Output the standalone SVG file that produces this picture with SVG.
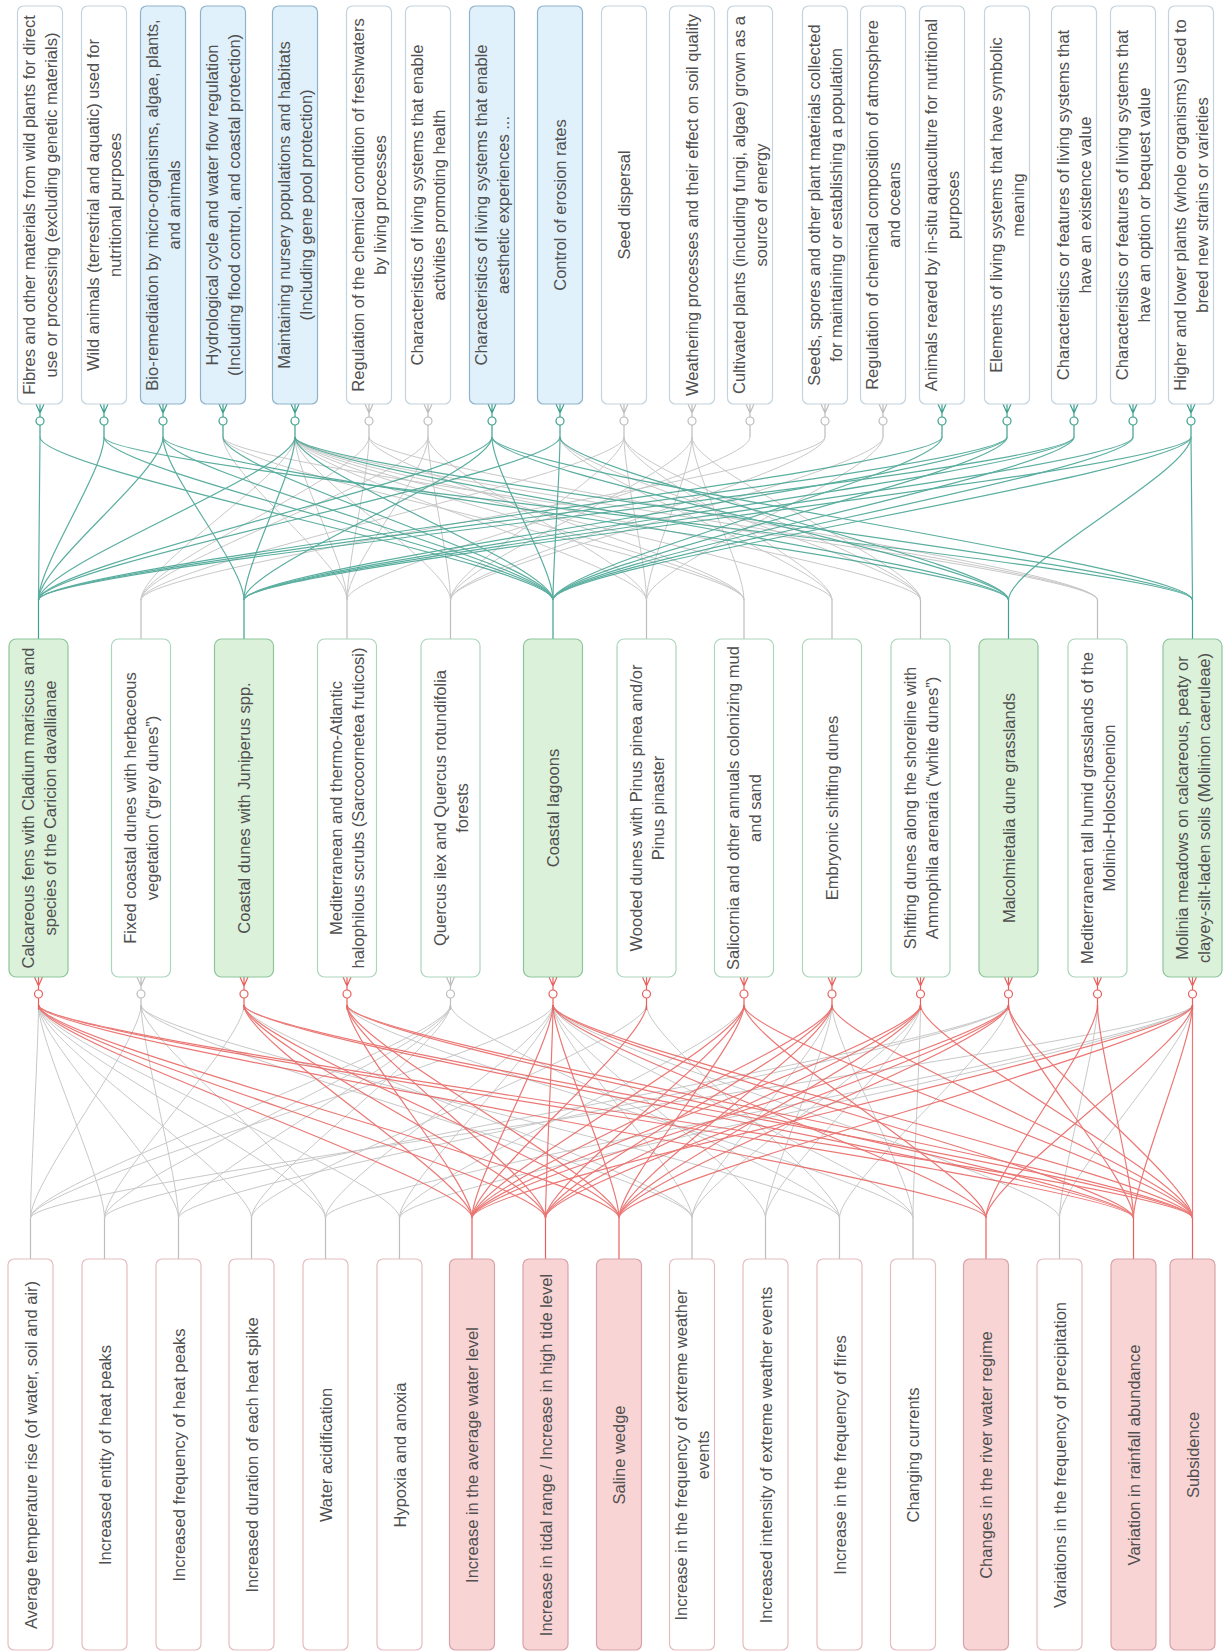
<svg xmlns="http://www.w3.org/2000/svg" xmlns:xlink="http://www.w3.org/1999/xlink" width="1223" height="1652" viewBox="0 0 1223 1652">
<style>
.t{font-family:"Liberation Sans",Arial,sans-serif;font-size:16.5px;fill:#505050;text-anchor:middle}
.bw{fill:#fff;stroke:#c3d3dd;stroke-width:1.2}
.bb{fill:#e1f1fb;stroke:#8db3cc;stroke-width:1.2}
.mw{fill:#fff;stroke:#a9d6bc;stroke-width:1.2}
.mg{fill:#dcf1da;stroke:#8cc59c;stroke-width:1.2}
.pw{fill:#fff;stroke:#e6bcc0;stroke-width:1.2}
.pp{fill:#f9d4d5;stroke:#d8a3a8;stroke-width:1.2}
.cg{fill:none;stroke:#c8c8c8;stroke-width:1}
.ct{fill:none;stroke:#3ea08f;stroke-width:1.2;opacity:.85}
.cr{fill:none;stroke:#e8605d;stroke-width:1.2;opacity:.85}
.kg{fill:none;stroke:#bdbdbd;stroke-width:1.2}
.kt{fill:none;stroke:#3ea08f;stroke-width:1.2}
.kr{fill:none;stroke:#e8605d;stroke-width:1.2}
</style>
<defs>
<g id="fk"><path d="M-4 0L0 9L4 0M0 0V13M0 21V33"/><circle cy="17" r="4" fill="#fff"/></g>
</defs>
<rect width="1223" height="1652" fill="#fff"/>

<g id="connectors">
<g class="cg">
<path d="M295 437C295 472 141 565 141 600"/><path d="M369 437C369 472 141 565 141 600"/><path d="M428 437C428 472 141 565 141 600"/><path d="M624 437C624 472 141 565 141 600"/><path d="M825 437C825 472 141 565 141 600"/>
<path d="M223 437C223 472 347 565 347 600"/><path d="M295 437C295 472 347 565 347 600"/><path d="M369 437C369 472 347 565 347 600"/><path d="M428 437C428 472 347 565 347 600"/><path d="M750 437C750 472 347 565 347 600"/>
<path d="M295 437C295 472 450.5 565 450.5 600"/><path d="M428 437C428 472 450.5 565 450.5 600"/><path d="M624 437C624 472 450.5 565 450.5 600"/><path d="M692 437C692 472 450.5 565 450.5 600"/><path d="M825 437C825 472 450.5 565 450.5 600"/><path d="M883 437C883 472 450.5 565 450.5 600"/>
<path d="M295 437C295 472 646.5 565 646.5 600"/><path d="M428 437C428 472 646.5 565 646.5 600"/><path d="M624 437C624 472 646.5 565 646.5 600"/><path d="M692 437C692 472 646.5 565 646.5 600"/><path d="M883 437C883 472 646.5 565 646.5 600"/>
<path d="M223 437C223 472 744 565 744 600"/><path d="M295 437C295 472 744 565 744 600"/><path d="M369 437C369 472 744 565 744 600"/><path d="M692 437C692 472 744 565 744 600"/>
<path d="M295 437C295 472 832 565 832 600"/><path d="M560 437C560 472 832 565 832 600"/><path d="M624 437C624 472 832 565 832 600"/>
<path d="M295 437C295 472 920.5 565 920.5 600"/><path d="M560 437C560 472 920.5 565 920.5 600"/><path d="M624 437C624 472 920.5 565 920.5 600"/><path d="M692 437C692 472 920.5 565 920.5 600"/>
<path d="M223 437C223 472 1097.5 565 1097.5 600"/><path d="M295 437C295 472 1097.5 565 1097.5 600"/><path d="M369 437C369 472 1097.5 565 1097.5 600"/>
<path d="M38.5 1005C38.5 1042 30.5 1181 30.5 1218"/><path d="M38.5 1005C38.5 1042 104.5 1181 104.5 1218"/><path d="M38.5 1005C38.5 1042 178.5 1181 178.5 1218"/><path d="M38.5 1005C38.5 1042 251.5 1181 251.5 1218"/><path d="M38.5 1005C38.5 1042 325.5 1181 325.5 1218"/><path d="M38.5 1005C38.5 1042 399.5 1181 399.5 1218"/>
<path d="M141 1005C141 1042 30.5 1181 30.5 1218"/><path d="M141 1005C141 1042 178.5 1181 178.5 1218"/><path d="M141 1005C141 1042 325.5 1181 325.5 1218"/><path d="M141 1005C141 1042 692 1181 692 1218"/><path d="M141 1005C141 1042 839.5 1181 839.5 1218"/>
<path d="M244 1005C244 1042 104.5 1181 104.5 1218"/><path d="M244 1005C244 1042 692 1181 692 1218"/>
<path d="M347 1005C347 1042 913 1181 913 1218"/>
<path d="M450.5 1005C450.5 1042 30.5 1181 30.5 1218"/><path d="M450.5 1005C450.5 1042 104.5 1181 104.5 1218"/><path d="M450.5 1005C450.5 1042 178.5 1181 178.5 1218"/><path d="M450.5 1005C450.5 1042 251.5 1181 251.5 1218"/><path d="M450.5 1005C450.5 1042 839.5 1181 839.5 1218"/>
<path d="M553 1005C553 1042 30.5 1181 30.5 1218"/><path d="M553 1005C553 1042 325.5 1181 325.5 1218"/><path d="M553 1005C553 1042 399.5 1181 399.5 1218"/><path d="M553 1005C553 1042 692 1181 692 1218"/><path d="M553 1005C553 1042 765.5 1181 765.5 1218"/><path d="M553 1005C553 1042 913 1181 913 1218"/><path d="M553 1005C553 1042 1059.5 1181 1059.5 1218"/>
<path d="M646.5 1005C646.5 1042 251.5 1181 251.5 1218"/><path d="M646.5 1005C646.5 1042 839.5 1181 839.5 1218"/>
<path d="M744 1005C744 1042 399.5 1181 399.5 1218"/>
<path d="M832 1005C832 1042 692 1181 692 1218"/><path d="M832 1005C832 1042 765.5 1181 765.5 1218"/><path d="M832 1005C832 1042 913 1181 913 1218"/>
<path d="M920.5 1005C920.5 1042 692 1181 692 1218"/><path d="M920.5 1005C920.5 1042 765.5 1181 765.5 1218"/><path d="M920.5 1005C920.5 1042 913 1181 913 1218"/>
<path d="M1008.5 1005C1008.5 1042 104.5 1181 104.5 1218"/><path d="M1008.5 1005C1008.5 1042 178.5 1181 178.5 1218"/><path d="M1008.5 1005C1008.5 1042 839.5 1181 839.5 1218"/>
<path d="M1097.5 1005C1097.5 1042 1059.5 1181 1059.5 1218"/>
<path d="M1192.5 1005C1192.5 1042 30.5 1181 30.5 1218"/><path d="M1192.5 1005C1192.5 1042 325.5 1181 325.5 1218"/><path d="M1192.5 1005C1192.5 1042 399.5 1181 399.5 1218"/><path d="M1192.5 1005C1192.5 1042 1059.5 1181 1059.5 1218"/>
</g>
<g class="ct">
<path d="M40 437C40 472 38.5 565 38.5 600"/><path d="M104 437C104 472 38.5 565 38.5 600"/><path d="M163 437C163 472 38.5 565 38.5 600"/><path d="M295 437C295 472 38.5 565 38.5 600"/><path d="M492 437C492 472 38.5 565 38.5 600"/><path d="M560 437C560 472 38.5 565 38.5 600"/><path d="M942 437C942 472 38.5 565 38.5 600"/><path d="M1007 437C1007 472 38.5 565 38.5 600"/><path d="M1074 437C1074 472 38.5 565 38.5 600"/>
<path d="M163 437C163 472 244 565 244 600"/><path d="M295 437C295 472 244 565 244 600"/><path d="M492 437C492 472 244 565 244 600"/><path d="M1007 437C1007 472 244 565 244 600"/><path d="M1074 437C1074 472 244 565 244 600"/><path d="M1133 437C1133 472 244 565 244 600"/><path d="M1191 437C1191 472 244 565 244 600"/>
<path d="M40 437C40 472 553 565 553 600"/><path d="M104 437C104 472 553 565 553 600"/><path d="M163 437C163 472 553 565 553 600"/><path d="M223 437C223 472 553 565 553 600"/><path d="M295 437C295 472 553 565 553 600"/><path d="M492 437C492 472 553 565 553 600"/><path d="M560 437C560 472 553 565 553 600"/><path d="M942 437C942 472 553 565 553 600"/><path d="M1007 437C1007 472 553 565 553 600"/><path d="M1074 437C1074 472 553 565 553 600"/><path d="M1133 437C1133 472 553 565 553 600"/><path d="M1191 437C1191 472 553 565 553 600"/>
<path d="M163 437C163 472 1008.5 565 1008.5 600"/><path d="M295 437C295 472 1008.5 565 1008.5 600"/><path d="M492 437C492 472 1008.5 565 1008.5 600"/><path d="M560 437C560 472 1008.5 565 1008.5 600"/><path d="M1191 437C1191 472 1008.5 565 1008.5 600"/>
<path d="M104 437C104 472 1192.5 565 1192.5 600"/><path d="M295 437C295 472 1192.5 565 1192.5 600"/><path d="M492 437C492 472 1192.5 565 1192.5 600"/><path d="M1191 437C1191 472 1192.5 565 1192.5 600"/>
</g>
<g class="cr">
<path d="M38.5 1005C38.5 1042 472 1181 472 1218"/><path d="M38.5 1005C38.5 1042 545.5 1181 545.5 1218"/><path d="M38.5 1005C38.5 1042 619 1181 619 1218"/><path d="M38.5 1005C38.5 1042 986 1181 986 1218"/><path d="M38.5 1005C38.5 1042 1133.5 1181 1133.5 1218"/><path d="M38.5 1005C38.5 1042 1192.5 1181 1192.5 1218"/>
<path d="M244 1005C244 1042 472 1181 472 1218"/><path d="M244 1005C244 1042 545.5 1181 545.5 1218"/><path d="M244 1005C244 1042 619 1181 619 1218"/><path d="M244 1005C244 1042 1133.5 1181 1133.5 1218"/><path d="M244 1005C244 1042 1192.5 1181 1192.5 1218"/>
<path d="M347 1005C347 1042 472 1181 472 1218"/><path d="M347 1005C347 1042 545.5 1181 545.5 1218"/><path d="M347 1005C347 1042 619 1181 619 1218"/><path d="M347 1005C347 1042 1133.5 1181 1133.5 1218"/><path d="M347 1005C347 1042 1192.5 1181 1192.5 1218"/>
<path d="M553 1005C553 1042 472 1181 472 1218"/><path d="M553 1005C553 1042 545.5 1181 545.5 1218"/><path d="M553 1005C553 1042 619 1181 619 1218"/><path d="M553 1005C553 1042 986 1181 986 1218"/><path d="M553 1005C553 1042 1133.5 1181 1133.5 1218"/><path d="M553 1005C553 1042 1192.5 1181 1192.5 1218"/>
<path d="M646.5 1005C646.5 1042 472 1181 472 1218"/>
<path d="M744 1005C744 1042 472 1181 472 1218"/><path d="M744 1005C744 1042 545.5 1181 545.5 1218"/><path d="M744 1005C744 1042 619 1181 619 1218"/><path d="M744 1005C744 1042 986 1181 986 1218"/><path d="M744 1005C744 1042 1192.5 1181 1192.5 1218"/>
<path d="M832 1005C832 1042 472 1181 472 1218"/><path d="M832 1005C832 1042 545.5 1181 545.5 1218"/><path d="M832 1005C832 1042 619 1181 619 1218"/><path d="M832 1005C832 1042 1192.5 1181 1192.5 1218"/>
<path d="M920.5 1005C920.5 1042 472 1181 472 1218"/><path d="M920.5 1005C920.5 1042 545.5 1181 545.5 1218"/><path d="M920.5 1005C920.5 1042 619 1181 619 1218"/><path d="M920.5 1005C920.5 1042 1192.5 1181 1192.5 1218"/>
<path d="M1008.5 1005C1008.5 1042 472 1181 472 1218"/><path d="M1008.5 1005C1008.5 1042 545.5 1181 545.5 1218"/><path d="M1008.5 1005C1008.5 1042 619 1181 619 1218"/><path d="M1008.5 1005C1008.5 1042 1133.5 1181 1133.5 1218"/><path d="M1008.5 1005C1008.5 1042 1192.5 1181 1192.5 1218"/>
<path d="M1097.5 1005C1097.5 1042 986 1181 986 1218"/><path d="M1097.5 1005C1097.5 1042 1133.5 1181 1133.5 1218"/>
<path d="M1192.5 1005C1192.5 1042 472 1181 472 1218"/><path d="M1192.5 1005C1192.5 1042 619 1181 619 1218"/><path d="M1192.5 1005C1192.5 1042 986 1181 986 1218"/><path d="M1192.5 1005C1192.5 1042 1133.5 1181 1133.5 1218"/><path d="M1192.5 1005C1192.5 1042 1192.5 1181 1192.5 1218"/>
</g>
<g class="kg"><path d="M141 600V639M347 600V639M450.5 600V639M646.5 600V639M744 600V639M832 600V639M920.5 600V639M1097.5 600V639"/>
<path d="M30.5 1218V1259M104.5 1218V1259M178.5 1218V1259M251.5 1218V1259M325.5 1218V1259M399.5 1218V1259M692 1218V1259M765.5 1218V1259M839.5 1218V1259M913 1218V1259M1059.5 1218V1259"/></g>
<g class="kt"><path d="M38.5 600V639M244 600V639M553 600V639M1008.5 600V639M1192.5 600V639"/></g>
<g class="kr"><path d="M472 1218V1259M545.5 1218V1259M619 1218V1259M986 1218V1259M1133.5 1218V1259M1192.5 1218V1259"/></g>
<use xlink:href="#fk" x="40" y="404" class="kt"/><use xlink:href="#fk" x="104" y="404" class="kt"/><use xlink:href="#fk" x="163" y="404" class="kt"/><use xlink:href="#fk" x="223" y="404" class="kt"/><use xlink:href="#fk" x="295" y="404" class="kt"/><use xlink:href="#fk" x="369" y="404" class="kg"/><use xlink:href="#fk" x="428" y="404" class="kg"/><use xlink:href="#fk" x="492" y="404" class="kt"/><use xlink:href="#fk" x="560" y="404" class="kt"/><use xlink:href="#fk" x="624" y="404" class="kg"/><use xlink:href="#fk" x="692" y="404" class="kg"/><use xlink:href="#fk" x="750" y="404" class="kg"/><use xlink:href="#fk" x="825" y="404" class="kg"/><use xlink:href="#fk" x="883" y="404" class="kg"/><use xlink:href="#fk" x="942" y="404" class="kt"/><use xlink:href="#fk" x="1007" y="404" class="kt"/><use xlink:href="#fk" x="1074" y="404" class="kt"/><use xlink:href="#fk" x="1133" y="404" class="kt"/><use xlink:href="#fk" x="1191" y="404" class="kt"/>
<use xlink:href="#fk" x="38.5" y="977" class="kr"/><use xlink:href="#fk" x="141" y="977" class="kg"/><use xlink:href="#fk" x="244" y="977" class="kr"/><use xlink:href="#fk" x="347" y="977" class="kr"/><use xlink:href="#fk" x="450.5" y="977" class="kg"/><use xlink:href="#fk" x="553" y="977" class="kr"/><use xlink:href="#fk" x="646.5" y="977" class="kr"/><use xlink:href="#fk" x="744" y="977" class="kr"/><use xlink:href="#fk" x="832" y="977" class="kr"/><use xlink:href="#fk" x="920.5" y="977" class="kr"/><use xlink:href="#fk" x="1008.5" y="977" class="kr"/><use xlink:href="#fk" x="1097.5" y="977" class="kr"/><use xlink:href="#fk" x="1192.5" y="977" class="kr"/>
</g>

<g id="es1"><rect class="bw" x="17.5" y="6" width="45" height="398" rx="6"/><text class="t" transform="translate(40 205) rotate(-90)"><tspan x="0" y="-5">Fibres and other materials from wild plants for direct</tspan><tspan x="0" y="17">use or processing  (excluding genetic materials)</tspan></text></g>
<g id="es2"><rect class="bw" x="81.5" y="6" width="45" height="398" rx="6"/><text class="t" transform="translate(104 205) rotate(-90)"><tspan x="0" y="-5">Wild animals (terrestrial and aquatic) used for</tspan><tspan x="0" y="17">nutritional purposes</tspan></text></g>
<g id="es3"><rect class="bb" x="140.5" y="6" width="45" height="398" rx="6"/><text class="t" transform="translate(163 205) rotate(-90)"><tspan x="0" y="-5">Bio-remediation by micro-organisms, algae, plants,</tspan><tspan x="0" y="17">and animals</tspan></text></g>
<g id="es4"><rect class="bb" x="200.5" y="6" width="45" height="398" rx="6"/><text class="t" transform="translate(223 205) rotate(-90)"><tspan x="0" y="-5">Hydrological cycle and water flow regulation</tspan><tspan x="0" y="17">(Including flood control, and coastal protection)</tspan></text></g>
<g id="es5"><rect class="bb" x="272.5" y="6" width="45" height="398" rx="6"/><text class="t" transform="translate(295 205) rotate(-90)"><tspan x="0" y="-5">Maintaining nursery populations and habitats</tspan><tspan x="0" y="17">(Including gene pool protection)</tspan></text></g>
<g id="es6"><rect class="bw" x="346.5" y="6" width="45" height="398" rx="6"/><text class="t" transform="translate(369 205) rotate(-90)"><tspan x="0" y="-5">Regulation of the chemical condition of freshwaters</tspan><tspan x="0" y="17">by living processes</tspan></text></g>
<g id="es7"><rect class="bw" x="405.5" y="6" width="45" height="398" rx="6"/><text class="t" transform="translate(428 205) rotate(-90)"><tspan x="0" y="-5">Characteristics of living systems that enable</tspan><tspan x="0" y="17">activities promoting health</tspan></text></g>
<g id="es8"><rect class="bb" x="469.5" y="6" width="45" height="398" rx="6"/><text class="t" transform="translate(492 205) rotate(-90)"><tspan x="0" y="-5">Characteristics of living systems that enable</tspan><tspan x="0" y="17">aesthetic experiences ...</tspan></text></g>
<g id="es9"><rect class="bb" x="537.5" y="6" width="45" height="398" rx="6"/><text class="t" transform="translate(560 205) rotate(-90)"><tspan x="0" y="6">Control of erosion rates</tspan></text></g>
<g id="es10"><rect class="bw" x="601.5" y="6" width="45" height="398" rx="6"/><text class="t" transform="translate(624 205) rotate(-90)"><tspan x="0" y="6">Seed dispersal</tspan></text></g>
<g id="es11"><rect class="bw" x="669.5" y="6" width="45" height="398" rx="6"/><text class="t" transform="translate(692 205) rotate(-90)"><tspan x="0" y="6">Weathering processes and their effect on soil quality</tspan></text></g>
<g id="es12"><rect class="bw" x="727.5" y="6" width="45" height="398" rx="6"/><text class="t" transform="translate(750 205) rotate(-90)"><tspan x="0" y="-5">Cultivated plants (including fungi, algae) grown as a</tspan><tspan x="0" y="17">source of  energy</tspan></text></g>
<g id="es13"><rect class="bw" x="802.5" y="6" width="45" height="398" rx="6"/><text class="t" transform="translate(825 205) rotate(-90)"><tspan x="0" y="-5">Seeds, spores and other plant materials collected</tspan><tspan x="0" y="17">for maintaining or establishing a population</tspan></text></g>
<g id="es14"><rect class="bw" x="860.5" y="6" width="45" height="398" rx="6"/><text class="t" transform="translate(883 205) rotate(-90)"><tspan x="0" y="-5">Regulation of chemical composition of atmosphere</tspan><tspan x="0" y="17">and oceans</tspan></text></g>
<g id="es15"><rect class="bw" x="919.5" y="6" width="45" height="398" rx="6"/><text class="t" transform="translate(942 205) rotate(-90)"><tspan x="0" y="-5">Animals reared by in-situ aquaculture for nutritional</tspan><tspan x="0" y="17">purposes</tspan></text></g>
<g id="es16"><rect class="bw" x="984.5" y="6" width="45" height="398" rx="6"/><text class="t" transform="translate(1007 205) rotate(-90)"><tspan x="0" y="-5">Elements of living systems that have symbolic</tspan><tspan x="0" y="17">meaning</tspan></text></g>
<g id="es17"><rect class="bw" x="1051.5" y="6" width="45" height="398" rx="6"/><text class="t" transform="translate(1074 205) rotate(-90)"><tspan x="0" y="-5">Characteristics or features of living systems that</tspan><tspan x="0" y="17">have an existence value</tspan></text></g>
<g id="es18"><rect class="bw" x="1110.5" y="6" width="45" height="398" rx="6"/><text class="t" transform="translate(1133 205) rotate(-90)"><tspan x="0" y="-5">Characteristics or features of living systems that</tspan><tspan x="0" y="17">have an option or bequest value</tspan></text></g>
<g id="es19"><rect class="bw" x="1168.5" y="6" width="45" height="398" rx="6"/><text class="t" transform="translate(1191 205) rotate(-90)"><tspan x="0" y="-5">Higher and lower plants (whole organisms) used to</tspan><tspan x="0" y="17">breed new strains or varieties</tspan></text></g>

<g id="h1"><rect class="mg" x="9" y="639" width="59" height="338" rx="7"/><text class="t" transform="translate(38.5 808) rotate(-90)"><tspan x="0" y="-5">Calcareous fens with Cladium mariscus and</tspan><tspan x="0" y="17">species of the Caricion davallianae</tspan></text></g>
<g id="h2"><rect class="mw" x="111.5" y="639" width="59" height="338" rx="7"/><text class="t" transform="translate(141 808) rotate(-90)"><tspan x="0" y="-5">Fixed coastal dunes with herbaceous</tspan><tspan x="0" y="17">vegetation (“grey dunes”)</tspan></text></g>
<g id="h3"><rect class="mg" x="214.5" y="639" width="59" height="338" rx="7"/><text class="t" transform="translate(244 808) rotate(-90)"><tspan x="0" y="6">Coastal dunes with Juniperus spp.</tspan></text></g>
<g id="h4"><rect class="mw" x="317.5" y="639" width="59" height="338" rx="7"/><text class="t" transform="translate(347 808) rotate(-90)"><tspan x="0" y="-5">Mediterranean and thermo-Atlantic</tspan><tspan x="0" y="17">halophilous scrubs (Sarcocornetea fruticosi)</tspan></text></g>
<g id="h5"><rect class="mw" x="421" y="639" width="59" height="338" rx="7"/><text class="t" transform="translate(450.5 808) rotate(-90)"><tspan x="0" y="-5">Quercus ilex and Quercus rotundifolia</tspan><tspan x="0" y="17">forests</tspan></text></g>
<g id="h6"><rect class="mg" x="523.5" y="639" width="59" height="338" rx="7"/><text class="t" transform="translate(553 808) rotate(-90)"><tspan x="0" y="6">Coastal lagoons</tspan></text></g>
<g id="h7"><rect class="mw" x="617" y="639" width="59" height="338" rx="7"/><text class="t" transform="translate(646.5 808) rotate(-90)"><tspan x="0" y="-5">Wooded dunes with Pinus pinea and/or</tspan><tspan x="0" y="17">Pinus pinaster</tspan></text></g>
<g id="h8"><rect class="mw" x="714.5" y="639" width="59" height="338" rx="7"/><text class="t" transform="translate(744 808) rotate(-90)"><tspan x="0" y="-5">Salicornia and other annuals colonizing mud</tspan><tspan x="0" y="17">and sand</tspan></text></g>
<g id="h9"><rect class="mw" x="802.5" y="639" width="59" height="338" rx="7"/><text class="t" transform="translate(832 808) rotate(-90)"><tspan x="0" y="6">Embryonic shifting dunes</tspan></text></g>
<g id="h10"><rect class="mw" x="891" y="639" width="59" height="338" rx="7"/><text class="t" transform="translate(920.5 808) rotate(-90)"><tspan x="0" y="-5">Shifting dunes along the shoreline with</tspan><tspan x="0" y="17">Ammophila arenaria (“white dunes”)</tspan></text></g>
<g id="h11"><rect class="mg" x="979" y="639" width="59" height="338" rx="7"/><text class="t" transform="translate(1008.5 808) rotate(-90)"><tspan x="0" y="6">Malcolmietalia dune grasslands</tspan></text></g>
<g id="h12"><rect class="mw" x="1068" y="639" width="59" height="338" rx="7"/><text class="t" transform="translate(1097.5 808) rotate(-90)"><tspan x="0" y="-5">Mediterranean tall humid grasslands of the</tspan><tspan x="0" y="17">Molinio-Holoschoenion</tspan></text></g>
<g id="h13"><rect class="mg" x="1163" y="639" width="59" height="338" rx="7"/><text class="t" transform="translate(1192.5 808) rotate(-90)"><tspan x="0" y="-5">Molinia meadows on calcareous, peaty or</tspan><tspan x="0" y="17">clayey-silt-laden soils (Molinion caeruleae)</tspan></text></g>

<g id="p1"><rect class="pw" x="8" y="1259" width="45" height="391" rx="6"/><text class="t" transform="translate(30.5 1455) rotate(-90)"><tspan x="0" y="6">Average temperature rise (of water, soil and air)</tspan></text></g>
<g id="p2"><rect class="pw" x="82" y="1259" width="45" height="391" rx="6"/><text class="t" transform="translate(104.5 1455) rotate(-90)"><tspan x="0" y="6">Increased entity of heat peaks</tspan></text></g>
<g id="p3"><rect class="pw" x="156" y="1259" width="45" height="391" rx="6"/><text class="t" transform="translate(178.5 1455) rotate(-90)"><tspan x="0" y="6">Increased frequency of heat peaks</tspan></text></g>
<g id="p4"><rect class="pw" x="229" y="1259" width="45" height="391" rx="6"/><text class="t" transform="translate(251.5 1455) rotate(-90)"><tspan x="0" y="6">Increased duration of each heat spike</tspan></text></g>
<g id="p5"><rect class="pw" x="303" y="1259" width="45" height="391" rx="6"/><text class="t" transform="translate(325.5 1455) rotate(-90)"><tspan x="0" y="6">Water acidification</tspan></text></g>
<g id="p6"><rect class="pw" x="377" y="1259" width="45" height="391" rx="6"/><text class="t" transform="translate(399.5 1455) rotate(-90)"><tspan x="0" y="6">Hypoxia and anoxia</tspan></text></g>
<g id="p7"><rect class="pp" x="449.5" y="1259" width="45" height="391" rx="6"/><text class="t" transform="translate(472 1455) rotate(-90)"><tspan x="0" y="6">Increase in the average water level</tspan></text></g>
<g id="p8"><rect class="pp" x="523" y="1259" width="45" height="391" rx="6"/><text class="t" transform="translate(545.5 1455) rotate(-90)"><tspan x="0" y="6">Increase in tidal range / Increase in high tide level</tspan></text></g>
<g id="p9"><rect class="pp" x="596.5" y="1259" width="45" height="391" rx="6"/><text class="t" transform="translate(619 1455) rotate(-90)"><tspan x="0" y="6">Saline wedge</tspan></text></g>
<g id="p10"><rect class="pw" x="669.5" y="1259" width="45" height="391" rx="6"/><text class="t" transform="translate(692 1455) rotate(-90)"><tspan x="0" y="-5">Increase in the frequency of extreme weather</tspan><tspan x="0" y="17">events</tspan></text></g>
<g id="p11"><rect class="pw" x="743" y="1259" width="45" height="391" rx="6"/><text class="t" transform="translate(765.5 1455) rotate(-90)"><tspan x="0" y="6">Increased intensity of extreme weather events</tspan></text></g>
<g id="p12"><rect class="pw" x="817" y="1259" width="45" height="391" rx="6"/><text class="t" transform="translate(839.5 1455) rotate(-90)"><tspan x="0" y="6">Increase in the frequency of fires</tspan></text></g>
<g id="p13"><rect class="pw" x="890.5" y="1259" width="45" height="391" rx="6"/><text class="t" transform="translate(913 1455) rotate(-90)"><tspan x="0" y="6">Changing currents</tspan></text></g>
<g id="p14"><rect class="pp" x="963.5" y="1259" width="45" height="391" rx="6"/><text class="t" transform="translate(986 1455) rotate(-90)"><tspan x="0" y="6">Changes in the river water regime</tspan></text></g>
<g id="p15"><rect class="pw" x="1037" y="1259" width="45" height="391" rx="6"/><text class="t" transform="translate(1059.5 1455) rotate(-90)"><tspan x="0" y="6">Variations in the frequency of precipitation</tspan></text></g>
<g id="p16"><rect class="pp" x="1111" y="1259" width="45" height="391" rx="6"/><text class="t" transform="translate(1133.5 1455) rotate(-90)"><tspan x="0" y="6">Variation in rainfall abundance</tspan></text></g>
<g id="p17"><rect class="pp" x="1170" y="1259" width="45" height="391" rx="6"/><text class="t" transform="translate(1192.5 1455) rotate(-90)"><tspan x="0" y="6">Subsidence</tspan></text></g>
</svg>
